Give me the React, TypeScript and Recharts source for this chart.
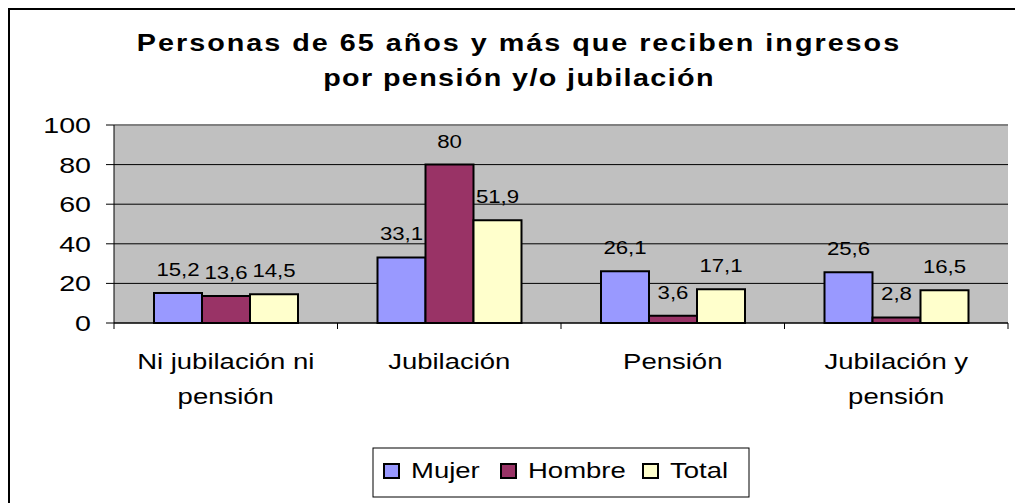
import React from 'react';
import { BarChart, Bar, XAxis, YAxis, CartesianGrid, LabelList, ReferenceLine } from 'recharts';

// ---- data ----
const categories = ['Ni jubilación ni pensión', 'Jubilación', 'Pensión', 'Jubilación y pensión'];
const categoryLines = [['Ni jubilación ni', 'pensión'], ['Jubilación'], ['Pensión'], ['Jubilación y', 'pensión']];
const mujer = [15.2, 33.1, 26.1, 25.6];
const hombre = [13.6, 80, 3.6, 2.8];
const total = [14.5, 51.9, 17.1, 16.5];
const yTicks = [0, 20, 40, 60, 80, 100];
const seriesNames = ['Mujer', 'Hombre', 'Total'];
const titleLines = ['Personas de 65 años y más que reciben ingresos', 'por pensión y/o jubilación'];

const data = categories.map((cat, i) => ({ cat, Mujer: mujer[i], Hombre: hombre[i], Total: total[i] }));

// ---- style ----
const COLORS: Record<string, string> = { Mujer: '#9999FF', Hombre: '#993366', Total: '#FFFFCC' };
const FONT = "'Liberation Sans', Arial, Helvetica, sans-serif";
const SX = 1.25;
const W = 1015;
const H = 495;
const MARGIN = { top: 117, right: 15, bottom: 80, left: 26 };
const Y_W = 80;
const X_H = 100;
const PLOT_W = W - MARGIN.left - MARGIN.right - Y_W;
const TITLE_SPACING = [1.6, 1.1];

const sText = (x: number, y: number, sx: number) => `translate(${x},${y}) scale(${sx},1)`;

const XTick = (props: any) => {
  const { x, y, payload } = props;
  const idx = categories.indexOf(payload.value);
  const band = PLOT_W / categories.length;
  const lines = categoryLines[idx] ?? [String(payload.value)];
  return (
    <g>
      <line x1={x - band / 2} x2={x - band / 2} y1={y} y2={y + 6} stroke="#000" strokeWidth={1} />
      {idx === categories.length - 1 && (
        <line x1={x + band / 2} x2={x + band / 2} y1={y} y2={y + 6} stroke="#000" strokeWidth={1} />
      )}
      {lines.map((l, k) => (
        <text
          key={k}
          transform={sText(x, y + 46 + k * 35, SX)}
          textAnchor="middle"
          fontSize={22}
          fontFamily={FONT}
          fill="#000"
        >
          {l}
        </text>
      ))}
    </g>
  );
};

const YTick = (props: any) => {
  const { x, y, payload } = props;
  return (
    <text transform={sText(x, y + 8, 1.3)} textAnchor="end" fontSize={22} fontFamily={FONT} fill="#000">
      {payload.value}
    </text>
  );
};

const ValueLabel = (props: any) => {
  const { x, y, width, value } = props;
  return (
    <text
      transform={sText(Number(x) + Number(width) / 2, Number(y) - 17, 1.17)}
      textAnchor="middle"
      fontSize={19}
      fontFamily={FONT}
      fill="#000"
    >
      {String(value).replace('.', ',')}
    </text>
  );
};

const Overlay = () => {
  // legend layout
  const box = { x: 365, y: 440, w: 376, h: 49 };
  const items = [
    { name: seriesNames[0], mx: 376, tx: 403 },
    { name: seriesNames[1], mx: 493, tx: 520 },
    { name: seriesNames[2], mx: 635, tx: 662 },
  ];
  return (
    <svg width={W} height={H} style={{ position: 'absolute', left: 0, top: 0, pointerEvents: 'none' }}>
      {titleLines.map((t, i) => (
        <text
          key={i}
          transform={sText(511, 43 + i * 35, 1.25)}
          textAnchor="middle"
          fontSize={23}
          fontWeight="bold"
          fontFamily={FONT}
          letterSpacing={TITLE_SPACING[i]}
          fill="#000"
        >
          {t}
        </text>
      ))}
      <rect x={box.x} y={box.y} width={box.w} height={box.h} fill="#fff" stroke="#000" strokeWidth={1} />
      {items.map((it) => (
        <g key={it.name}>
          <rect x={it.mx} y={456} width={15} height={14} fill={COLORS[it.name]} stroke="#000" strokeWidth={2} />
          <text transform={sText(it.tx, 470, SX)} fontSize={22} fontFamily={FONT} fill="#000">
            {it.name}
          </text>
        </g>
      ))}
    </svg>
  );
};

export default function App() {
  return (
    <div style={{ position: 'relative', width: W, height: H }}>
      <div
        style={{
          position: 'absolute',
          left: -1,
          top: -1,
          width: W + 1,
          height: H + 1,
          borderTop: '3px solid #000',
          borderLeft: '3px solid #000',
          boxSizing: 'border-box',
        }}
      />
      <BarChart width={W} height={H} data={data} margin={MARGIN} barGap={0} barSize={48}>
        <CartesianGrid fill="#C0C0C0" stroke="#000" vertical={false} />
        <XAxis
          dataKey="cat"
          height={X_H}
          interval={0}
          tickLine={false}
          tickSize={0}
          tickMargin={0}
          axisLine={{ stroke: '#000', strokeWidth: 1 }}
          tick={<XTick />}
        />
        <YAxis
          width={Y_W}
          domain={[0, 100]}
          ticks={yTicks}
          interval={0}
          tickSize={8}
          tickMargin={15}
          tickLine={{ stroke: '#000' }}
          axisLine={{ stroke: '#000', strokeWidth: 1 }}
          tick={<YTick />}
        />
        <YAxis
          yAxisId="right"
          orientation="right"
          width={0}
          domain={[0, 100]}
          tick={false}
          tickLine={false}
          axisLine={{ stroke: '#808080', strokeWidth: 2 }}
        />
        <ReferenceLine y={100} stroke="#808080" strokeWidth={2} />
        {seriesNames.map((s) => (
          <Bar key={s} dataKey={s} fill={COLORS[s]} stroke="#000" strokeWidth={2} isAnimationActive={false}>
            <LabelList dataKey={s} content={<ValueLabel />} />
          </Bar>
        ))}
      </BarChart>
      <Overlay />
    </div>
  );
}
